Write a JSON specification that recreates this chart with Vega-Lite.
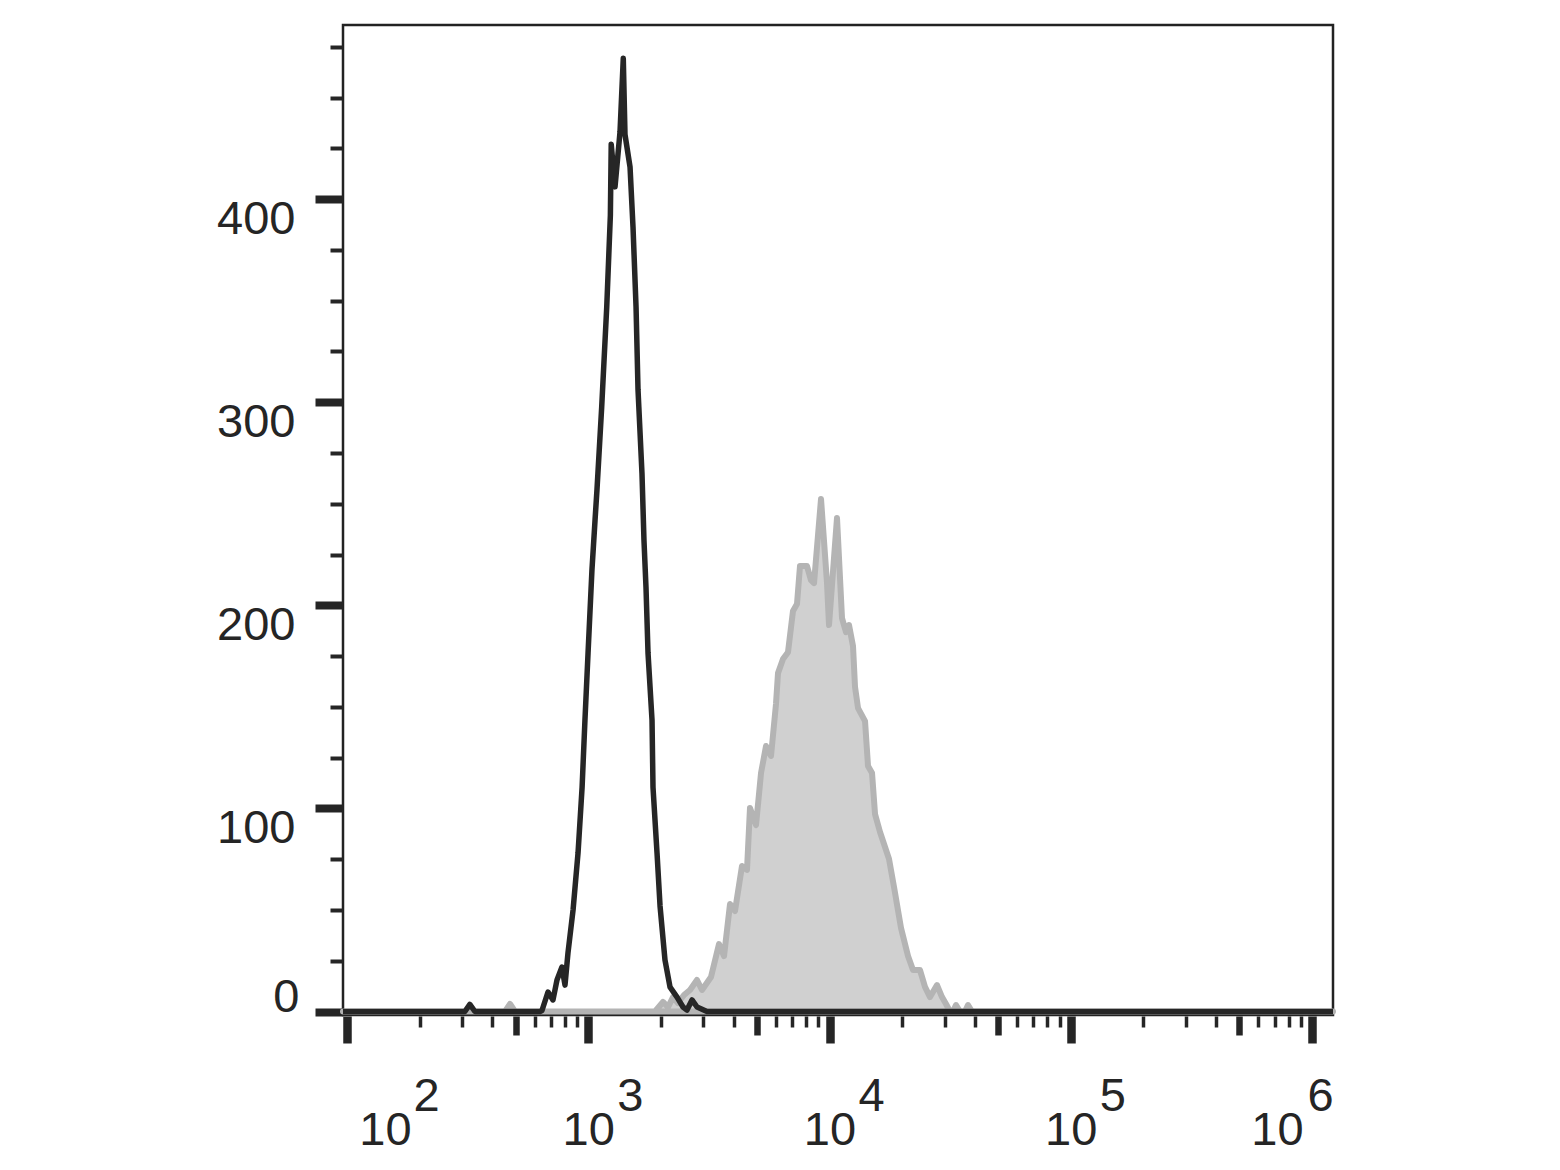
{
  "$schema": "https://vega.github.io/schema/vega-lite/v6.json",
  "width": 990,
  "height": 990,
  "autosize": {"type": "none"},
  "padding": {"left": 343, "top": 25, "right": 227, "bottom": 155},
  "background": "white",
  "config": {
    "view": {"stroke": "#222222", "strokeWidth": 2.5},
    "axis": {"grid": false, "title": null, "labelFont": "Liberation Sans", "labelColor": "#252525", "tickColor": "#252525", "domain": false, "labelOverlap": false, "labelFlush": false, "labelBound": false}
  },
  "datasets": {
    "gray": [
      {"v": 96.25, "c": 0}, {"v": 451.7, "c": 0}, {"v": 474, "c": 3.7}, {"v": 497, "c": 0},
      {"v": 1891, "c": 0}, {"v": 2041, "c": 4.7}, {"v": 2141, "c": 2.2}, {"v": 2246, "c": 7.1},
      {"v": 2355, "c": 4.2}, {"v": 2494, "c": 8.1}, {"v": 2641, "c": 10.6}, {"v": 2823, "c": 15.5},
      {"v": 2961, "c": 10.6}, {"v": 3227, "c": 17.0}, {"v": 3484, "c": 33.2}, {"v": 3654, "c": 27.3},
      {"v": 3869, "c": 52.9}, {"v": 4058, "c": 49.5}, {"v": 4338, "c": 71.6}, {"v": 4550, "c": 69.7},
      {"v": 4682, "c": 100.2}, {"v": 4959, "c": 91.8}, {"v": 5202, "c": 117.4}, {"v": 5456, "c": 130.7},
      {"v": 5722, "c": 125.8}, {"v": 6001, "c": 151.4}, {"v": 6117, "c": 166.6}, {"v": 6416, "c": 173.5},
      {"v": 6730, "c": 176.9}, {"v": 7058, "c": 197.2}, {"v": 7332, "c": 200.6}, {"v": 7546, "c": 219.3},
      {"v": 8067, "c": 219.3}, {"v": 8380, "c": 212.4}, {"v": 8626, "c": 210.9}, {"v": 9222, "c": 252.3},
      {"v": 9765, "c": 210.9}, {"v": 9953, "c": 190.3}, {"v": 10742, "c": 243.0}, {"v": 11268, "c": 193.7},
      {"v": 11707, "c": 186.8}, {"v": 12047, "c": 190.3}, {"v": 12515, "c": 179.9}, {"v": 12757, "c": 159.8},
      {"v": 13130, "c": 149.4}, {"v": 14035, "c": 143.0}, {"v": 14442, "c": 120.9}, {"v": 15005, "c": 117.4},
      {"v": 15441, "c": 97.2}, {"v": 16195, "c": 88.4}, {"v": 17648, "c": 75.1}, {"v": 18510, "c": 61.3},
      {"v": 19790, "c": 41.1}, {"v": 21154, "c": 27.3}, {"v": 22188, "c": 20.4}, {"v": 23721, "c": 20.4},
      {"v": 24880, "c": 12.1}, {"v": 26095, "c": 7.1}, {"v": 27904, "c": 13.0}, {"v": 29267, "c": 7.1},
      {"v": 30407, "c": 3.7}, {"v": 31587, "c": 0}, {"v": 32504, "c": 0}, {"v": 33449, "c": 3.2},
      {"v": 34750, "c": 0}, {"v": 36449, "c": 0}, {"v": 37508, "c": 3.2}, {"v": 38970, "c": 0},
      {"v": 1221900, "c": 0}
    ],
    "black": [
      {"v": 96.25, "c": 0}, {"v": 308, "c": 0}, {"v": 323, "c": 3.5}, {"v": 339, "c": 0},
      {"v": 631, "c": 0}, {"v": 643, "c": 0.5}, {"v": 681, "c": 9.6}, {"v": 714, "c": 5.7},
      {"v": 742, "c": 15.5}, {"v": 778, "c": 21.9}, {"v": 801, "c": 13}, {"v": 824, "c": 28.8},
      {"v": 865, "c": 50}, {"v": 907, "c": 78}, {"v": 943, "c": 110.5}, {"v": 969, "c": 143.5},
      {"v": 998, "c": 176.5}, {"v": 1036, "c": 217.4}, {"v": 1067, "c": 242}, {"v": 1087, "c": 257},
      {"v": 1137, "c": 297.7}, {"v": 1193, "c": 346.9}, {"v": 1235, "c": 392}, {"v": 1245, "c": 427},
      {"v": 1291, "c": 406}, {"v": 1354, "c": 433}, {"v": 1397, "c": 469.3}, {"v": 1420, "c": 431.8},
      {"v": 1490, "c": 415.8}, {"v": 1533, "c": 386.2}, {"v": 1578, "c": 346.8}, {"v": 1608, "c": 306},
      {"v": 1670, "c": 265}, {"v": 1702, "c": 232}, {"v": 1735, "c": 209}, {"v": 1769, "c": 176.5},
      {"v": 1838, "c": 143.5}, {"v": 1855, "c": 110.5}, {"v": 1928, "c": 78}, {"v": 1984, "c": 52},
      {"v": 2080, "c": 25.4}, {"v": 2183, "c": 12}, {"v": 2333, "c": 7.1}, {"v": 2470, "c": 2.2},
      {"v": 2566, "c": 0.7}, {"v": 2692, "c": 5.7}, {"v": 2824, "c": 2.2}, {"v": 3106, "c": 0},
      {"v": 1221900, "c": 0}
    ]
  },
  "layer": [
    {
      "data": {"name": "gray"},
      "mark": {"type": "area", "fill": "#d0d0d0", "stroke": "#b4b4b4", "strokeWidth": 6, "strokeJoin": "round", "clip": false},
      "encoding": {
        "x": {
          "field": "v", "type": "quantitative",
          "scale": {"type": "log", "domain": [96.25, 1221900], "nice": false},
          "axis": {
            "orient": "bottom",
            "offset": 1,
            "values": [100,200,300,400,500,600,700,800,900,1000,2000,3000,4000,5000,6000,7000,8000,9000,10000,20000,30000,40000,50000,60000,70000,80000,90000,100000,200000,300000,400000,500000,600000,700000,800000,900000,1000000],
            "tickSize": {"condition": [{"test": "datum.value == 100 || datum.value == 1000 || datum.value == 10000 || datum.value == 100000 || datum.value == 1000000", "value": 27}, {"test": "datum.value == 500 || datum.value == 5000 || datum.value == 50000 || datum.value == 500000", "value": 19}], "value": 11},
            "tickWidth": {"condition": [{"test": "datum.value == 100 || datum.value == 1000 || datum.value == 10000 || datum.value == 100000 || datum.value == 1000000", "value": 8.5}, {"test": "datum.value == 500 || datum.value == 5000 || datum.value == 50000 || datum.value == 500000", "value": 6.5}], "value": 3.5},
            "labelExpr": "(datum.value == 100 || datum.value == 1000 || datum.value == 10000 || datum.value == 100000 || datum.value == 1000000) ? '10' : ''",
            "labelFontSize": 47,
            "labelBaseline": "top",
            "labelPadding": 64.6,
            "labelOffset": {"condition": [{"test": "datum.value == 100", "value": 38}, {"test": "datum.value == 1000000", "value": -35}], "value": 0}
          }
        },
        "y": {
          "field": "c", "type": "quantitative",
          "scale": {"domain": [-1.72, 485.7], "nice": false, "zero": false},
          "axis": {
            "values": [0,25,50,75,100,125,150,175,200,225,250,275,300,325,350,375,400,425,450,475],
            "tickSize": {"condition": {"test": "datum.value % 100 == 0", "value": 28}, "value": 13},
            "tickWidth": {"condition": {"test": "datum.value % 100 == 0", "value": 8}, "value": 4},
            "labelExpr": "datum.value % 100 == 0 ? datum.label : ''",
            "labelFontSize": 47,
            "labelAlign": "right",
            "labelBaseline": {"condition": {"test": "datum.value == 0", "value": "alphabetic"}, "value": "top"},
            "labelOffset": {"condition": {"test": "datum.value == 0", "value": 0}, "value": -2.5},
            "labelPadding": {"condition": {"test": "datum.value == 0", "value": 16}, "value": 20}
          }
        }
      }
    },
    {
      "data": {"name": "black"},
      "mark": {"type": "line", "stroke": "#262626", "strokeWidth": 5.5, "strokeJoin": "round", "clip": false},
      "encoding": {
        "x": {
          "field": "v", "type": "quantitative",
          "scale": {"type": "log", "domain": [96.25, 1221900], "nice": false},
          "axis": {
            "orient": "bottom",
            "offset": 1,
            "values": [100, 1000, 10000, 100000, 1000000],
            "ticks": false,
            "tickSize": 0,
            "labelExpr": "'' + round(log(datum.value) / LN10)",
            "labelFontSize": 47,
            "labelBaseline": "top",
            "labelPadding": 57,
            "labelOffset": {"condition": [{"test": "datum.value == 100", "value": 79}, {"test": "datum.value == 1000000", "value": 8}], "value": 41.5}
          }
        },
        "y": {
          "field": "c", "type": "quantitative",
          "scale": {"domain": [-1.72, 485.7], "nice": false, "zero": false},
          "axis": {
            "values": [0,25,50,75,100,125,150,175,200,225,250,275,300,325,350,375,400,425,450,475],
            "tickSize": {"condition": {"test": "datum.value % 100 == 0", "value": 28}, "value": 13},
            "tickWidth": {"condition": {"test": "datum.value % 100 == 0", "value": 8}, "value": 4},
            "labelExpr": "datum.value % 100 == 0 ? datum.label : ''",
            "labelFontSize": 47,
            "labelAlign": "right",
            "labelBaseline": {"condition": {"test": "datum.value == 0", "value": "alphabetic"}, "value": "top"},
            "labelOffset": {"condition": {"test": "datum.value == 0", "value": 0}, "value": -2.5},
            "labelPadding": {"condition": {"test": "datum.value == 0", "value": 16}, "value": 20}
          }
        }
      }
    }
  ],
  "resolve": {"axis": {"x": "independent", "y": "shared"}}
}
